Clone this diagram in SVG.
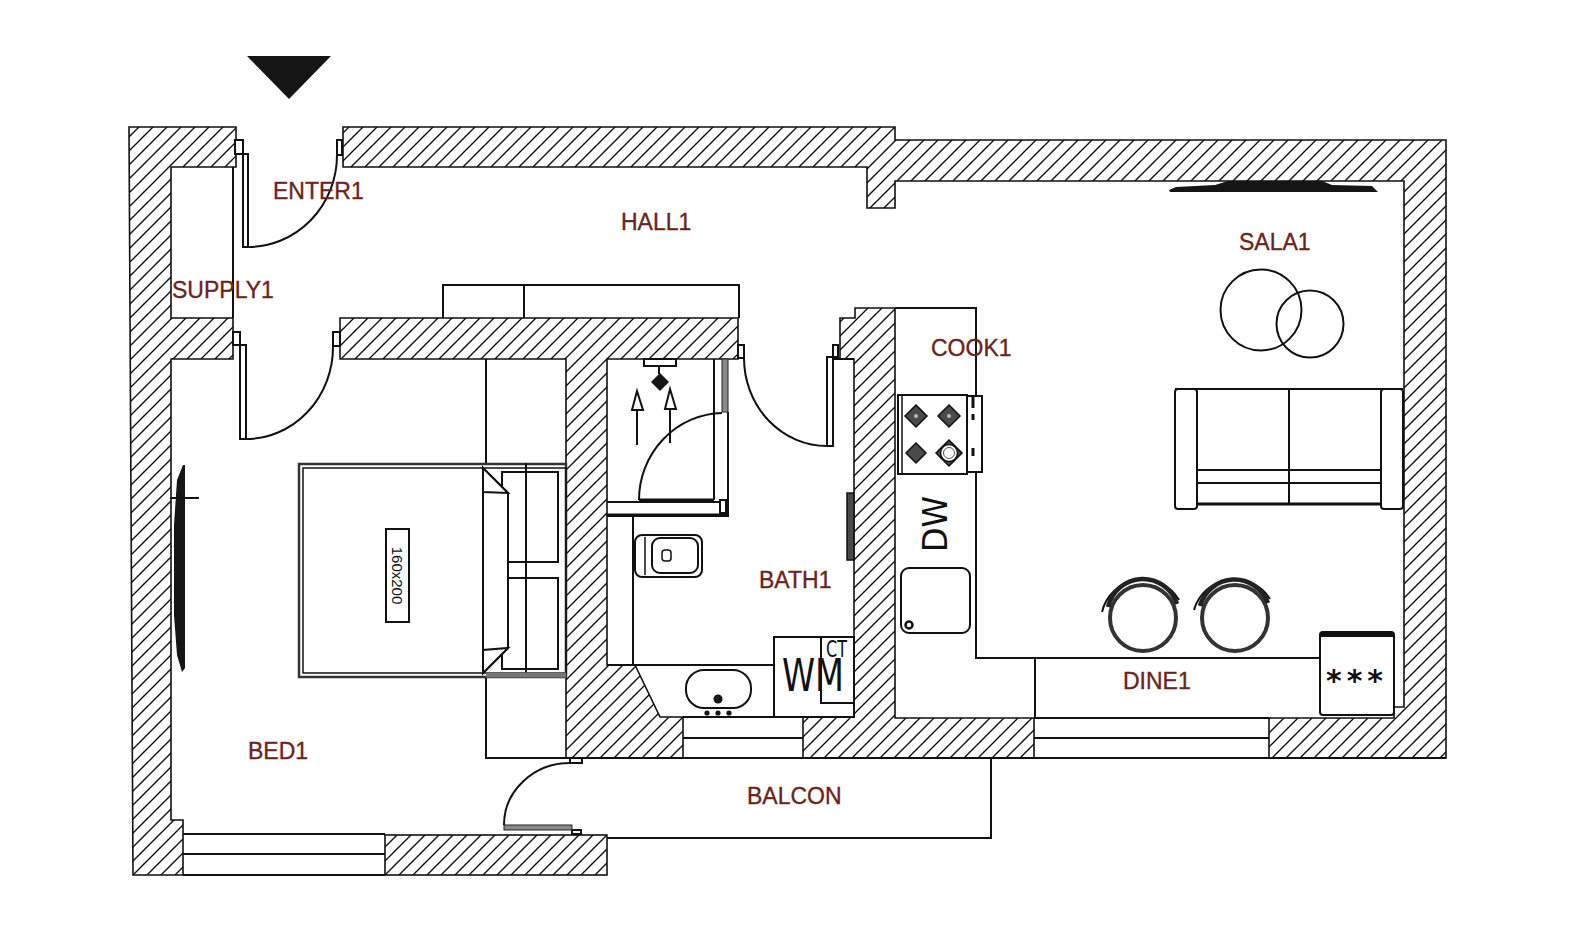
<svg xmlns="http://www.w3.org/2000/svg" width="1590" height="940" viewBox="0 0 1590 940">
<style>
.w{fill:url(#hatch);stroke:#111;stroke-width:1.6}
.l{fill:none;stroke:#111;stroke-width:2}
.t{fill:none;stroke:#111;stroke-width:1.5}
.k{fill:none;stroke:#111;stroke-width:3}
.f{fill:#fff;stroke:#111;stroke-width:2}
.d{fill:#151515;stroke:none}
.g{fill:#8a8a8a;stroke:#222;stroke-width:1}
.b{fill:#4a4a4a;stroke:#111;stroke-width:1.5}
.lab{font-family:"Liberation Sans",Arial,sans-serif;font-size:23px;fill:#6b241a;stroke:#6b241a;stroke-width:.35}
.sym{font-family:"DejaVu Sans",sans-serif;fill:#111}
</style>
<defs>
<pattern id="hatch" patternUnits="userSpaceOnUse" width="14" height="14">
<rect width="14" height="14" fill="#fff"/>
<path d="M-2 2L2 -2M0 14L14 0M12 16L16 12" stroke="#111" stroke-width="1.4"/>
</pattern>
</defs>
<rect width="1590" height="940" fill="#fff"/>
<g id="entry-marker"><polygon class="d" points="247,56 331,56 289,99"/></g>
<g id="walls">
<polygon class="w" points="129,127 236,127 236,167 171,167 171,318 233,318 233,359 171,359 171,820 183,820 183,875 133,875"/>
<rect class="w" x="385" y="835" width="222" height="40"/>
<polygon class="w" points="343,127 895,127 895,140 1446,140 1446,758 1269,758 1269,718 1394,718 1394,707 1404,707 1404,181 895,181 895,208 867,208 867,167 343,167"/>
<polygon class="w" points="340,318 738,318 738,359 607,359 607,665 635,665 660,717 683,717 683,758 566,758 566,359 340,359"/>
<polygon class="w" points="855,308 895,308 895,718 1034,718 1034,758 803,758 803,717 854,717 854,359 840,359 840,318 855,318"/>
</g>
<g id="windows">
<path class="l" d="M683 717H803M683 738H803M566 758H1446M1034 718H1269M1034 738H1269M183 834H385M183 854H385M183 875H385"/>
</g>
<g id="partitions">
<path class="l" d="M233 167V318M607 838H991V758M895 308H976V658H1320M1035 658V718M607 665H774M633 516V665M486 359V463M486 678V758H566M526 463V678"/>
</g>
<g id="door-entrance">
<rect class="f" x="235" y="140" width="8" height="14"/><rect class="f" x="243" y="154" width="5" height="93"/>
<rect class="f" x="337" y="140" width="5" height="15"/>
<path class="l" d="M248 247A89 92 0 0 0 337 155"/>
</g>
<g id="door-bedroom">
<rect class="f" x="233" y="332" width="7" height="13"/><rect class="f" x="240" y="345" width="6" height="94"/>
<rect class="f" x="333" y="332" width="7" height="14"/>
<path class="l" d="M246 439A87 92 0 0 0 333 347"/>
</g>
<g id="door-bath">
<rect class="f" x="738" y="345" width="6" height="13"/><rect class="f" x="833" y="345" width="5" height="12"/>
<rect class="f" x="827" y="357" width="6" height="89"/>
<path class="l" d="M744 358A83 88 0 0 0 827 446M833 359H854"/>
</g>
<g id="door-balcony">
<rect class="f" x="570" y="758" width="12" height="5"/><rect class="f" x="572" y="830" width="9" height="4"/>
<rect class="g" x="504" y="825" width="68" height="5"/>
<path class="l" d="M504 825A66 62 0 0 1 570 763"/>
</g>
<g id="hall-cabinet"><path class="l" d="M443 318V285H739V318M524 285V318" stroke-width="2.5"/></g>
<g id="shower">
<path class="l" d="M714 359V500M728 412V516H607M607 502H728M639 500H714"/>
<rect class="g" x="722" y="359" width="6" height="53"/>
<path class="k" d="M639 500H714"/>
<path class="k" d="M607 515H728"/>
<rect class="f" x="720" y="500" width="6" height="13" stroke-width="1"/>
<path class="l" d="M639 500A85 87 0 0 1 722 413"/>
<rect class="f" x="644" y="359" width="32" height="7"/>
<path class="l" d="M659 366V374"/>
<polygon class="d" points="660,373 669,382 660,391 651,382"/>
<path class="l" d="M637 445V410M670 443V409"/>
<polygon class="f" points="637,391 643,410 632,410"/>
<polygon class="f" points="670,389 676,409 665,409"/>
</g>
<g id="toilet">
<rect class="f" x="635" y="535" width="67" height="42" rx="7" stroke-width="2.5"/>
<rect class="f" x="652" y="538" width="46" height="35" rx="8"/>
<path class="t" d="M645 537V575"/>
<rect class="t" x="662" y="550" width="9" height="11" rx="3" stroke-width="2"/>
</g>
<g id="towel-rail"><rect class="b" x="847" y="493" width="7" height="67"/></g>
<g id="washbasin">
<rect class="f" x="686" y="670" width="65" height="38" rx="18" stroke-width="2.5"/>
<circle class="d" cx="718" cy="699" r="4.5"/>
<circle class="d" cx="707" cy="713" r="2.6"/><circle class="d" cx="718" cy="713" r="2.6"/><circle class="d" cx="729" cy="713" r="2.6"/>
</g>
<g id="washing-machine">
<rect class="f" x="774" y="637" width="80" height="80"/>
<rect class="l" x="821" y="637" width="33" height="66"/>
<text class="sym" x="782" y="691" font-size="45" textLength="62" lengthAdjust="spacingAndGlyphs" style="font-family:'DejaVu Sans ExtraLight','DejaVu Sans',sans-serif">WM</text>
<text class="sym" x="826" y="657" font-size="23" textLength="21" lengthAdjust="spacingAndGlyphs" style="font-family:'DejaVu Sans ExtraLight','DejaVu Sans',sans-serif">CT</text>
</g>
<g id="stove">
<rect class="f" x="967" y="396" width="15" height="76" stroke-width="2.5"/>
<path class="k" d="M973 396V408M973 414V420M973 448V456"/>
<rect class="f" x="898" y="395" width="69" height="79" stroke-width="3"/>
<path class="t" d="M902 396V473"/>
<g class="b">
<polygon points="916,405 927,416 916,427 905,416"/><polygon points="949,405 960,416 949,427 938,416"/>
<polygon points="916,443 926,453 916,463 906,453"/><polygon points="949,440 962,453 949,466 936,453"/>
</g>
<circle cx="916" cy="416" r="2" fill="#bbb"/><circle cx="949" cy="416" r="2" fill="#bbb"/>
<circle cx="949" cy="453" r="8.5" fill="#fff" stroke="#111" stroke-width="1.5"/><circle cx="949" cy="453" r="5.5" fill="#fff" stroke="#555"/>
</g>
<g id="dishwasher"><text class="sym" transform="translate(947 552) rotate(-90)" font-size="33" textLength="56" lengthAdjust="spacingAndGlyphs">DW</text></g>
<g id="kitchen-sink">
<rect class="f" x="901" y="568" width="69" height="65" rx="8" stroke-width="3"/>
<circle cx="909" cy="625" r="3.5" fill="#fff" stroke="#111" stroke-width="2.5"/>
</g>
<g id="coffee-tables">
<circle class="l" cx="1261" cy="310" r="40.5" stroke-width="2.3"/>
<circle class="l" cx="1310" cy="324" r="33.5" stroke-width="2.3"/>
</g>
<g id="sofa">
<rect class="f" x="1175" y="389" width="22" height="120" rx="3"/>
<rect class="f" x="1381" y="389" width="22" height="120" rx="3"/>
<path class="l" d="M1175 389H1403M1289 389V505M1197 470H1381M1197 483H1381"/>
<path class="k" d="M1197 504H1381"/>
</g>
<g id="tv-sala"><polygon class="d" points="1169,190 1176,187 1215,185 1228,181 1322,181 1332,185 1372,186 1378,192 1170,192"/></g>
<g id="tv-bed">
<polygon class="d" points="183,465 177,480 174,525 174,615 177,655 182,672 185,668 185,465"/>
<path class="l" d="M170 498H199"/>
</g>
<g id="stool-1">
<circle cx="1143" cy="618" r="33" fill="#fff" stroke="#333" stroke-width="4"/>
<path d="M1102 612A42 42 0 0 1 1179 600" fill="none" stroke="#111" stroke-width="2"/>
<path d="M1108 607A36 37 0 0 1 1177 604" fill="none" stroke="#222" stroke-width="4.5"/>
</g>
<g id="stool-2">
<circle cx="1235" cy="618" r="33" fill="#fff" stroke="#333" stroke-width="4"/>
<path d="M1194 610A42 42 0 0 1 1270 599" fill="none" stroke="#111" stroke-width="2"/>
<path d="M1200 606A36 37 0 0 1 1268 603" fill="none" stroke="#222" stroke-width="4.5"/>
</g>
<g id="fridge">
<rect class="f" x="1320" y="632" width="74" height="83" rx="3" stroke-width="2.5"/>
<path d="M1321 634.500H1393" stroke="#111" stroke-width="5"/>
<text class="sym" x="1357" y="691" font-size="30" font-weight="700" text-anchor="middle" letter-spacing="5">***</text>
</g>
<g id="bed">
<rect x="299" y="464" width="267" height="213" fill="#fff" stroke="#333" stroke-width="2.500"/>
<rect class="t" x="303" y="468" width="263" height="205"/>
<rect class="f" x="502" y="472" width="56" height="90" stroke-width="2.500"/>
<rect class="f" x="502" y="578" width="56" height="91" stroke-width="2.500"/>
<path class="l" d="M508 562V578M526 463V677"/>
<polygon class="f" points="483,468 508,493 508,648 483,673"/>
<polygon class="f" points="483,468 508,493 483,492"/>
<polygon class="f" points="483,673 508,648 483,650"/>
<path d="M486 675H566" stroke="#777" stroke-width="5"/>
<rect class="f" x="386" y="529" width="23" height="93"/>
<text transform="translate(392 575.500) rotate(90)" text-anchor="middle" font-family="Liberation Sans, sans-serif" font-size="15" fill="#111">160x200</text>
</g>
<g id="labels">
<text class="lab" x="273" y="199">ENTER1</text>
<text class="lab" x="172" y="298">SUPPLY1</text>
<text class="lab" x="621" y="230">HALL1</text>
<text class="lab" x="1239" y="250">SALA1</text>
<text class="lab" x="931" y="356">COOK1</text>
<text class="lab" x="759" y="588">BATH1</text>
<text class="lab" x="747" y="804">BALCON</text>
<text class="lab" x="1123" y="689">DINE1</text>
<text class="lab" x="248" y="759">BED1</text>
</g>
</svg>
